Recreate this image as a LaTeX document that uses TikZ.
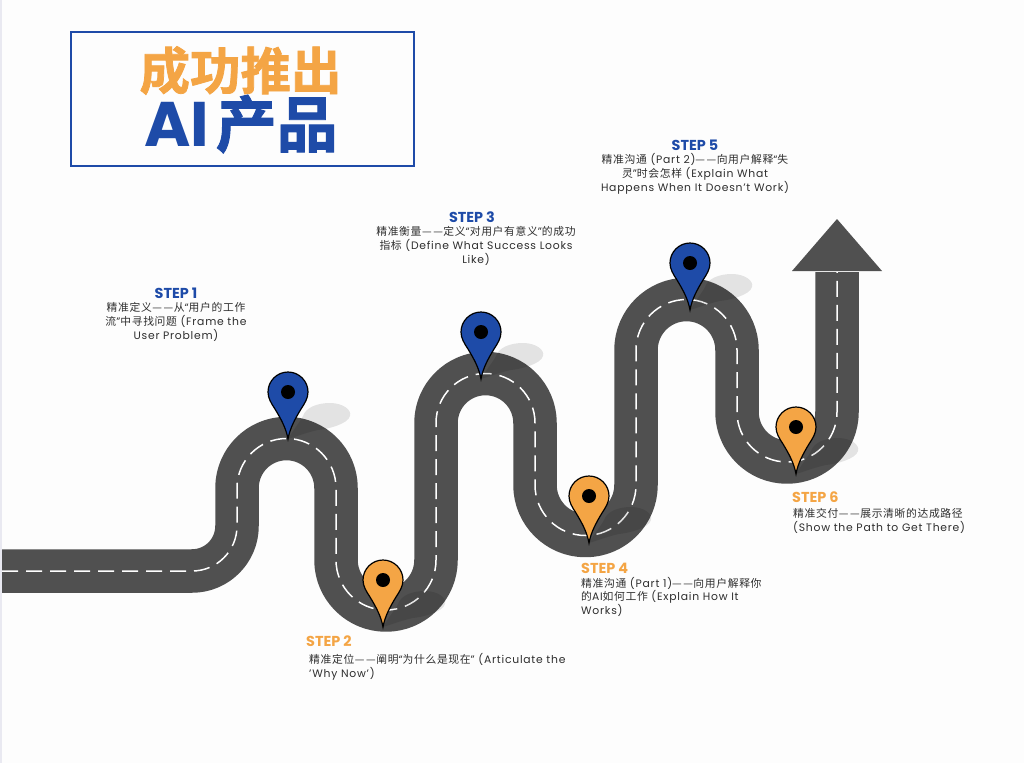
\documentclass[tikz,border=0pt]{standalone}
\usepackage{fontspec}
\setmainfont{Poppins}[LetterSpace=7]
\newfontfamily\cjkfont{Noto Sans CJK SC}[LetterSpace=6]
\newfontfamily\cjkboldfont{Noto Sans CJK SC Bold}[FakeBold=1.5]
\newfontfamily\headfont{Poppins}[BoldFont=Poppins Bold]
\newcommand{\Cn}[1]{{\cjkfont #1}}
\newcommand{\Dd}{—\kern1.5pt—\kern0.5pt}
\definecolor{brandblue}{HTML}{1E4BA8}
\definecolor{brandorange}{HTML}{F4A545}
\definecolor{roadgray}{HTML}{505050}
\definecolor{bodyink}{HTML}{2E2E2E}
\definecolor{pagebg}{HTML}{FDFDFD}
\definecolor{edgetint}{HTML}{E9E9F1}
\tikzset{
  x=1pt,y=-1pt,
  roadbody/.style={draw=roadgray,line width=43.5pt,line join=round},
  roadmark/.style={draw=white,line width=1.5pt,dash pattern=on 16pt off 8pt},
  heading/.style={font=\headfont\bfseries\fontsize{14.4}{16}\selectfont,inner sep=0pt},
  bodytext/.style={font=\fontsize{10.8}{13.7}\selectfont,text=bodyink,inner sep=0pt},
  pics/mappin/.style={code={
    \fill[black,opacity=0.1] (0,47) .. controls (5,38) and (12,30) .. (15,24)
      .. controls (18,15) and (30,11) .. (42,11) .. controls (55,11) and (64,18) .. (62,24)
      .. controls (60,32) and (40,37) .. (30,38) .. controls (20,40) and (10,44) .. (0,47) -- cycle;
    \draw[fill=#1,draw=black,line width=1.2pt,line join=miter]
      (0,47) .. controls (-2,36) and (-7,27) .. (-13,17)
      .. controls (-17,11) and (-20,6) .. (-20,0)
      .. controls (-20,-11) and (-11,-20) .. (0,-20)
      .. controls (11,-20) and (20,-11) .. (20,0)
      .. controls (20,6) and (17,11) .. (13,17)
      .. controls (7,27) and (2,36) .. (0,47) -- cycle;
    \fill[black] (0,0) circle[radius=7];
  }}
}
\begin{document}
\begin{tikzpicture}
\useasboundingbox (0,0) rectangle (1024,763);
\fill[pagebg] (0,0) rectangle (1024,763);
\fill[edgetint] (0,0) rectangle (1.6,763);

% road (y axis points down, so arcs over the top run 180 -> 360)
\def\roadpath{(2,571) -- (192,571)
  arc[start angle=90,end angle=0,radius=45] -- (237,488)
  arc[start angle=180,end angle=360,radius=49.5] -- (336,560)
  arc[start angle=180,end angle=0,radius=50] -- (436,423)
  arc[start angle=180,end angle=360,radius=49.5] -- (535,485)
  arc[start angle=180,end angle=0,radius=50.5] -- (636,350)
  arc[start angle=180,end angle=360,radius=50.5] -- (737,412)
  arc[start angle=180,end angle=0,radius=50] -- (837,272)}
\draw[roadbody] \roadpath;
\fill[roadgray] (837,219) -- (882,271) -- (792,271) -- cycle;
\draw[roadmark] \roadpath;

% pins
\pic at (288,392) {mappin=brandblue};
\pic at (383,580) {mappin=brandorange};
\pic at (481,332) {mappin=brandblue};
\pic at (589,496) {mappin=brandorange};
\pic at (690,263) {mappin=brandblue};
\pic at (796,427) {mappin=brandorange};

% title
\draw[brandblue,line width=1.6pt] (71,32) rectangle (414,166);
\node[inner sep=0pt,text=brandorange,font=\cjkboldfont\fontsize{50.5}{51}\selectfont] (titleA) at (240.5,70.5) {成功推出};
\node[inner sep=0pt,text=brandblue,anchor=base west,font=\headfont\bfseries\fontsize{63}{63}\selectfont] (titleB) at (144,146) {AI};
\node[inner sep=0pt,text=brandblue,anchor=base west,font=\cjkboldfont\fontsize{61}{61}\selectfont] (titleC) at (215.5,147) {产品};

% steps
\node[heading,text=brandblue] (s1) at (176,293) {STEP 1};
\node[bodytext,align=center] (b1) at (176,322) {\Cn{精准定义\Dd 从}“\Cn{用户的工作}\\\Cn{流}”\Cn{中寻找问题} (Frame the\\User Problem)};

\node[heading,text=brandorange,anchor=west] (s2) at (306,641) {STEP 2};
\node[bodytext,align=left,anchor=north west] (b2) at (309,653) {\Cn{精准定位\Dd 阐明}“\Cn{为什么是现在}” (Articulate the\\'Why Now')};

\node[heading,text=brandblue] (s3) at (472,217) {STEP 3};
\node[bodytext,align=center] (b3) at (476,246) {\Cn{精准衡量\Dd 定义}“\Cn{对用户有意义}”\Cn{的成功}\\\Cn{指标} (Define What Success Looks\\Like)};

\node[heading,text=brandorange,anchor=west] (s4) at (581,568) {STEP 4};
\node[bodytext,align=left,anchor=north west] (b4) at (581,577) {\Cn{精准沟通} (Part 1)\Cn{\Dd 向用户解释你}\\\Cn{的}AI\Cn{如何工作} (Explain How It\\Works)};

\node[heading,text=brandblue] (s5) at (695,145) {STEP 5};
\node[bodytext,align=center] (b5) at (695,174) {\Cn{精准沟通} (Part 2)\Cn{\Dd 向用户解释}“\Cn{失}\\\Cn{灵}”\Cn{时会怎样} (Explain What\\Happens When It Doesn't Work)};

\node[heading,text=brandorange,anchor=west] (s6) at (792,497) {STEP 6};
\node[bodytext,align=left,anchor=north west] (b6) at (793,508) {\Cn{精准交付\Dd 展示清晰的达成路径}\\(Show the Path to Get There)};
\end{tikzpicture}
\end{document}
